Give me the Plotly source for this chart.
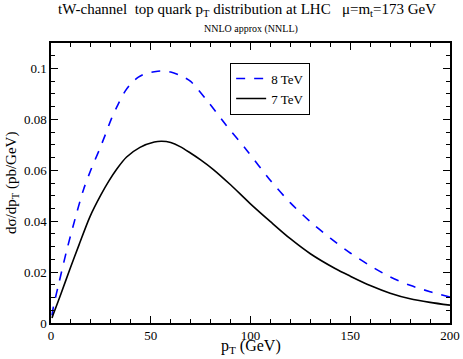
import plotly.graph_objects as go

pt_8 = [0.5, 1.2, 4, 7.9, 12, 16.2, 20, 24.2, 27, 30.4, 33.7, 37.1, 40, 43.8, 47, 51.8, 55, 60, 65, 70, 79, 88, 98, 110, 120, 130, 140, 150, 160, 170, 180, 190, 200]
ds_8 = [0.003, 0.0063, 0.0158, 0.0286, 0.0407, 0.0522, 0.0602, 0.068, 0.0735, 0.0805, 0.0860, 0.0910, 0.0940, 0.0966, 0.0979, 0.0987, 0.0990, 0.0986, 0.0972, 0.0949, 0.0866, 0.0775, 0.0680, 0.0560, 0.0472, 0.0398, 0.0333, 0.0275, 0.0225, 0.0181, 0.0148, 0.0123, 0.0102]

pt_7 = [0.5, 1.2, 5, 9.5, 14, 19.5, 25, 29.2, 32.9, 37.9, 44.6, 51.8, 55.5, 60, 64.7, 69.7, 75, 81.4, 90, 99.7, 110, 119.8, 130, 142.4, 150, 160, 170, 180, 190, 200]
ds_7 = [0.002, 0.0035, 0.0115, 0.0212, 0.0306, 0.0417, 0.0503, 0.0560, 0.0604, 0.0652, 0.0690, 0.0711, 0.0714, 0.0709, 0.0693, 0.0669, 0.0641, 0.0603, 0.0543, 0.0470, 0.0398, 0.0332, 0.0272, 0.0214, 0.0184, 0.0147, 0.0117, 0.0095, 0.0081, 0.0070]

series_names = ["8 TeV", "7 TeV"]

FONT = "Liberation Serif"

fig = go.Figure()
fig.add_trace(go.Scatter(x=pt_8, y=ds_8, mode="lines", name=series_names[0],
                         line=dict(color="#0000ff", width=1.6, dash="dash", shape="spline", smoothing=0.8)))
fig.add_trace(go.Scatter(x=pt_7, y=ds_7, mode="lines", name=series_names[1],
                         line=dict(color="#000000", width=1.6, shape="spline", smoothing=0.8)))

axis_common = dict(showline=True, linecolor="black", linewidth=1.5, mirror="allticks",
                   ticks="inside", ticklen=7, tickwidth=1.3, tickcolor="black",
                   showgrid=False, zeroline=False, automargin=False,
                   tickfont=dict(family=FONT, size=13, color="black"))

fig.update_layout(
    width=463, height=359,
    margin=dict(l=51, r=13, t=43, b=36),
    paper_bgcolor="white", plot_bgcolor="white",
    font=dict(family=FONT, color="black"),
    showlegend=True,
    legend=dict(x=0.449, y=0.93, xanchor="left", yanchor="top",
                bordercolor="black", borderwidth=1, bgcolor="white",
                font=dict(family=FONT, size=13, color="black"),
                tracegroupgap=0, itemwidth=30),
    xaxis=dict(range=[0, 200], dtick=50, tick0=0,
               minor=dict(ticks="inside", dtick=10, ticklen=4, tickcolor="black", tickwidth=1.2),
               **axis_common),
    yaxis=dict(range=[0, 0.11], dtick=0.02, tick0=0,
               minor=dict(ticks="inside", dtick=0.005, ticklen=4, tickcolor="black", tickwidth=1.2),
               **axis_common),
    annotations=[
        dict(text="tW-channel  top quark p<sub>T</sub> distribution at LHC   μ=m<sub>t</sub>=173 GeV",
             x=0.49, y=1, xref="paper", yref="paper", xanchor="center", yanchor="bottom",
             yshift=22, showarrow=False, font=dict(family=FONT, size=15, color="black")),
        dict(text="NNLO approx (NNLL)", x=0.5, y=1, xref="paper", yref="paper",
             xanchor="center", yanchor="bottom", yshift=6, showarrow=False,
             font=dict(family=FONT, size=10, color="black")),
        dict(text="p<sub>T</sub> (GeV)", x=0.5, y=0, xref="paper", yref="paper",
             xanchor="center", yanchor="middle", yshift=-23, showarrow=False,
             font=dict(family=FONT, size=16, color="black")),
        dict(text="dσ/dp<sub>T</sub> (pb/GeV)", x=0, y=0.5, xref="paper", yref="paper",
             xanchor="center", yanchor="middle", xshift=-39, textangle=-90, showarrow=False,
             font=dict(family=FONT, size=15, color="black")),
    ],
)

fig.write_html("out.html", config={"displayModeBar": False},
               post_script="document.body.style.margin='0';")
